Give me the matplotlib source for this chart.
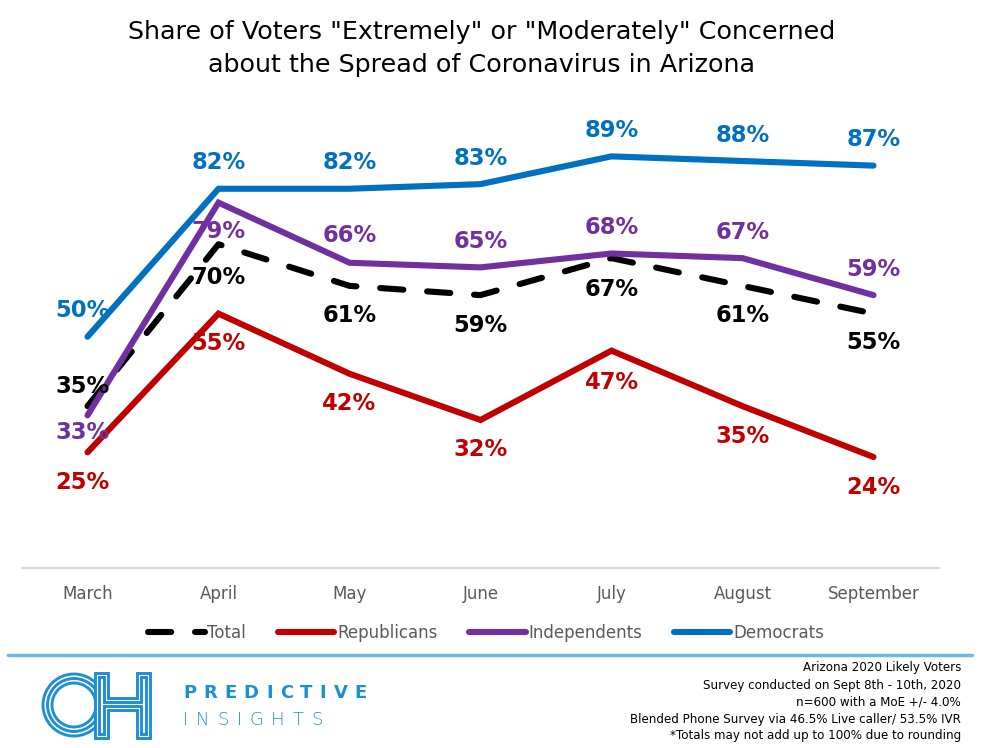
import matplotlib
matplotlib.use('Agg')
from matplotlib import pyplot as plt
from matplotlib.patches import Circle, Polygon

# survey data (percent concerned)
months = ['March', 'April', 'May', 'June', 'July', 'August', 'September']
total = [35, 70, 61, 59, 67, 61, 55]
republicans = [25, 55, 42, 32, 47, 35, 24]
independents = [33, 79, 66, 65, 68, 67, 59]
democrats = [50, 82, 82, 83, 89, 88, 87]

# label offsets in pixels (negative = above the point)
total_dy = [-20, 33, 30, 30, 31, 30, 29]
rep_dy = [30, 30, 30, 30, 32, 30, 30]
ind_dy = [17, 29, -27, -26, -26, -26, -26]
dem_dy = [-26, -26, -26, -26, -26, -26, -26]

footer_lines = [
    'Arizona 2020 Likely Voters',
    'Survey conducted on Sept 8th - 10th, 2020',
    'n=600 with a MoE +/- 4.0%',
    'Blended Phone Survey via 46.5% Live caller/ 53.5% IVR',
    '*Totals may not add up to 100% due to rounding',
]

W, H = 984, 748
fig = plt.figure(figsize=(W / 100, H / 100), dpi=100)

# background axes in pixel coords for title / footer / logo
bg = fig.add_axes([0, 0, 1, 1])
bg.set_xlim(0, W)
bg.set_ylim(H, 0)
bg.axis('off')

ax = fig.add_axes([22 / W, (H - 568) / H, 917 / W, (568 - 105.5) / H])
x = list(range(len(months)))

series = [
    (total, 'Total', 'black', total_dy),
    (republicans, 'Republicans', '#C00000', rep_dy),
    (independents, 'Independents', '#7030A0', ind_dy),
    (democrats, 'Democrats', '#0070C0', dem_dy),
]

for vals, name, col, dys in series:
    if name == 'Total':
        ln, = ax.plot(x, vals, color=col, lw=4.4, label=name,
                      solid_capstyle='round', dash_capstyle='round')
        ln.set_dashes((3.8, 3.9))
    else:
        ax.plot(x, vals, color=col, lw=4.4, label=name,
                solid_capstyle='round', solid_joinstyle='miter')
    for i, v in enumerate(vals):
        dx = -5 if i == 0 else 0
        ax.annotate(f'{v}%', (i, v), xytext=(dx * 0.72, -dys[i] * 0.72),
                    textcoords='offset points', ha='center', va='center',
                    fontsize=16.3, fontweight='bold', color=col,
                    annotation_clip=False)

ax.set_xlim(-0.5, 6.5)
ax.set_ylim(0, 100)
ax.set_yticks([])
ax.set_xticks(x)
ax.set_xticklabels(months, fontsize=12, color='#595959')
ax.tick_params(axis='x', length=0, pad=12)
for s in ['top', 'right', 'left']:
    ax.spines[s].set_visible(False)
ax.spines['bottom'].set_color('#D9D9D9')
ax.spines['bottom'].set_linewidth(1.5)
ax.patch.set_alpha(0)

leg = fig.legend(loc='center', bbox_to_anchor=(486 / W, 1 - 633 / H), ncol=4,
                 frameon=False, fontsize=12, handlelength=3.4,
                 handletextpad=0.15, columnspacing=1.9)
for t in leg.get_texts():
    t.set_color('#595959')

bg.text(482, 48.5, 'Share of Voters "Extremely" or "Moderately" Concerned\n'
        'about the Spread of Coronavirus in Arizona',
        ha='center', va='center', fontsize=18.3, linespacing=1.47, color='black')

# footer rule
bg.plot([8, 972], [655, 655], color='#6CB8E6', lw=2.5, solid_capstyle='round')

for k, line in enumerate(footer_lines):
    bg.text(961, 668 + k * 17, line, ha='right', va='center', fontsize=8.6,
            family=['Liberation Sans Narrow', 'DejaVu Sans'], color='black')

# logo mark
blue = '#1E8FD5'
for r in [31, 26.5, 22]:
    bg.add_patch(Circle((74, 705), r, fill=False, ec=blue, lw=2.1))
outer = [(95, 673), (108, 673), (108, 698), (137, 698), (137, 673), (150, 673),
         (150, 738), (137, 738), (137, 710), (108, 710), (108, 738), (95, 738)]
inner = [(99, 677), (104, 677), (104, 702), (141, 702), (141, 677), (146, 677),
         (146, 734), (141, 734), (141, 706), (104, 706), (104, 734), (99, 734)]
bg.add_patch(Polygon(outer, closed=True, fc='white', ec=blue, lw=2.1))
bg.add_patch(Polygon(inner, closed=True, fill=False, ec=blue, lw=2.1))

# spaced logo words
fig.canvas.draw()
rend = fig.canvas.get_renderer()
for word, y, wt, gap in [('PREDICTIVE', 693, 'bold', 7.2), ('INSIGHTS', 720, 'light', 7.8)]:
    xpos = 183
    for ch in word:
        t = bg.text(xpos, y, ch, ha='left', va='center', fontsize=13,
                    fontweight=wt, color=blue)
        bb = t.get_window_extent(renderer=rend)
        xpos += bb.width + gap

fig.savefig('out.png', dpi=100)
